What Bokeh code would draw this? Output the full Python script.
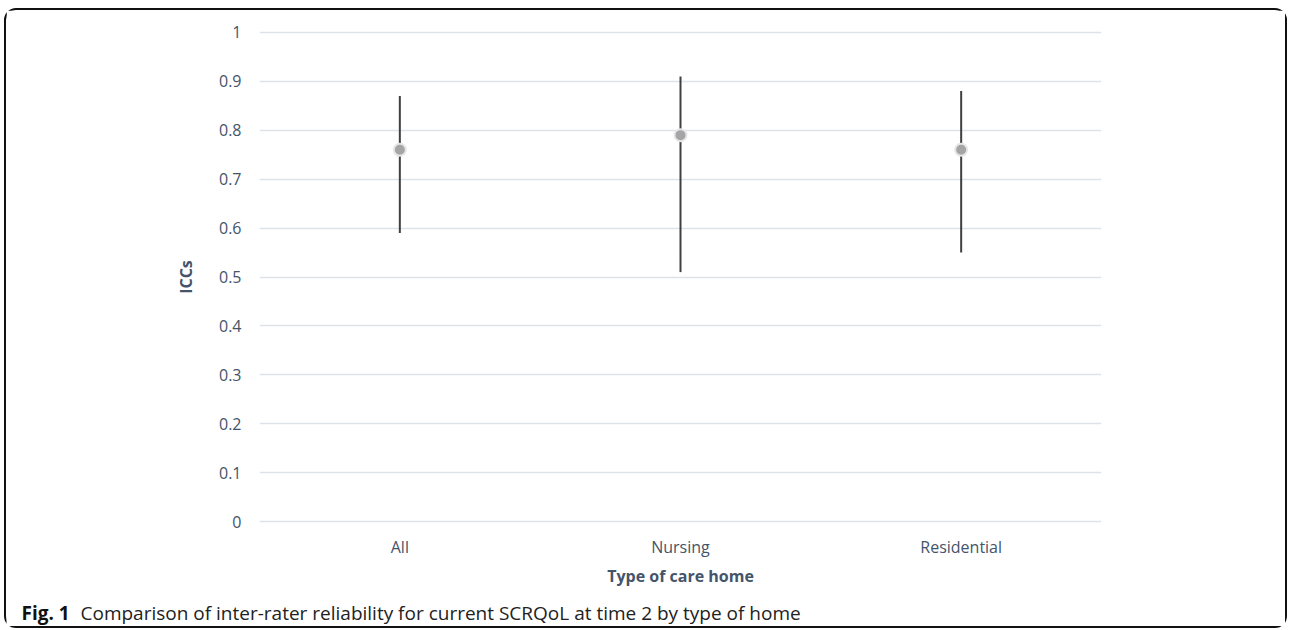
from bokeh.plotting import figure
from bokeh.models import FactorRange, Range1d, FixedTicker, Label
from bokeh.layouts import column
from bokeh.embed import file_html
from bokeh.resources import INLINE

# ---- data ----
categories = ["All", "Nursing", "Residential"]
icc = [0.76, 0.79, 0.76]
lower = [0.59, 0.51, 0.55]
upper = [0.87, 0.91, 0.88]
y_ticks = [0, 0.1, 0.2, 0.3, 0.4, 0.5, 0.6, 0.7, 0.8, 0.9, 1]
y_tick_labels = ["0", "0.1", "0.2", "0.3", "0.4", "0.5", "0.6", "0.7", "0.8", "0.9", "1"]
x_title = "Type of care home"
y_title = "ICCs"
caption_bold = "Fig. 1"
caption_text = "Comparison of inter-rater reliability for current SCRQoL at time 2 by type of home"

FONT = "Open Sans"
SLATE = "#44546A"

p = figure(
    width=1279, height=584,
    x_range=FactorRange(*categories, range_padding=0),
    y_range=Range1d(-0.01, 1.01),
    output_backend="svg", toolbar_location=None,
    min_border_left=253, min_border_right=184,
    min_border_top=17, min_border_bottom=68,
)
p.frame_align = False
p.outline_line_color = None
p.background_fill_color = "white"
p.border_fill_color = "white"

# grid
p.xgrid.grid_line_color = None
p.ygrid.grid_line_color = "#DEE3EA"
p.ygrid.grid_line_width = 1.5

# y axis
p.yaxis.ticker = FixedTicker(ticks=y_ticks)
p.yaxis.major_label_overrides = {t: l for t, l in zip(y_ticks, y_tick_labels)}
p.yaxis.axis_line_color = None
p.yaxis.major_tick_line_color = None
p.yaxis.minor_tick_line_color = None
p.yaxis.major_label_standoff = 12
p.yaxis.major_label_text_font = FONT
p.yaxis.major_label_text_font_size = "16px"
p.yaxis.major_label_text_color = SLATE
p.yaxis.axis_label = y_title
p.yaxis.axis_label_text_font = FONT
p.yaxis.axis_label_text_font_style = "bold"
p.yaxis.axis_label_text_font_size = "16px"
p.yaxis.axis_label_text_color = SLATE
p.yaxis.axis_label_standoff = 19

# x axis
p.xaxis.axis_line_color = None
p.xaxis.major_tick_line_color = None
p.xaxis.minor_tick_line_color = None
p.xaxis.major_label_standoff = 3
p.xaxis.major_label_text_font = FONT
p.xaxis.major_label_text_font_size = "16px"
p.xaxis.major_label_text_color = SLATE
p.xaxis.axis_label = x_title
p.xaxis.axis_label_text_font = FONT
p.xaxis.axis_label_text_font_style = "bold"
p.xaxis.axis_label_text_font_size = "16px"
p.xaxis.axis_label_text_color = SLATE
p.xaxis.axis_label_standoff = 4

# error bars + points
p.segment(x0=categories, y0=lower, x1=categories, y1=upper,
          line_color="#404040", line_width=2)
p.scatter(x=categories, y=icc, size=12, fill_color="#A5A5A5",
          line_color="#E6E6E6", line_width=2)

# caption strip
cap = figure(width=1279, height=32, output_backend="svg", toolbar_location=None,
             x_axis_location=None, y_axis_location=None,
             x_range=Range1d(0, 1), y_range=Range1d(0, 1),
             min_border=0)
cap.frame_align = False
cap.outline_line_color = None
cap.grid.grid_line_color = None
cap.border_fill_color = "white"
cap.add_layout(Label(x=15, y=14, x_units="screen", y_units="screen",
                     text=caption_bold, text_font=FONT, text_font_style="bold",
                     text_font_size="19px", text_color="#111111",
                     text_baseline="middle", text_align="left"))
cap.add_layout(Label(x=74, y=14, x_units="screen", y_units="screen",
                     text=caption_text, text_font=FONT,
                     text_font_size="19px", text_color="#222222",
                     text_baseline="middle", text_align="left"))

layout = column(p, cap, spacing=0)
layout.styles = {"border": "2px solid #111111", "border-radius": "12px",
                 "margin-left": "4px", "margin-top": "8px",
                 "background-color": "white"}

open("out.html", "w").write(file_html(layout, INLINE))
